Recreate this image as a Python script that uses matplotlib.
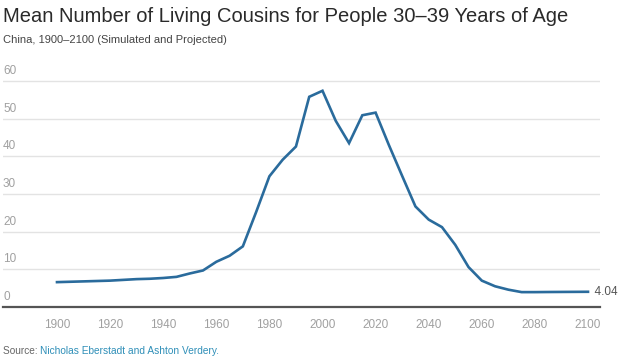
import matplotlib

matplotlib.use("Agg")
import matplotlib.pyplot as plt
from matplotlib import transforms

plt.rcParams["font.family"] = ["Liberation Sans", "DejaVu Sans"]

years = list(range(1900, 2101, 5))
cousins = [
    6.6, 6.7, 6.8, 6.9, 7.0, 7.2, 7.4, 7.5, 7.7, 8.0,
    8.9, 9.7, 12.0, 13.6, 16.1, 25.2, 34.7, 39.1, 42.6, 55.8,
    57.4, 49.4, 43.5, 50.9, 51.6, 43.0, 34.8, 26.7, 23.2, 21.2,
    16.5, 10.6, 7.0, 5.5, 4.6, 3.95, 3.95, 3.98, 4.0, 4.02, 4.04,
]
y_ticks = [0, 10, 20, 30, 40, 50, 60]
x_ticks = list(range(1900, 2101, 20))
end_label = "4.04"

W, H = 626, 361
fig = plt.figure(figsize=(W / 100, H / 100), dpi=100)
ax = fig.add_axes([3 / W, 1 - 307 / H, 597 / W, 237 / H])

px_per_year = 2.655
ax.set_xlim(1900 - 54 / px_per_year, 2100 + 12 / px_per_year)
ax.set_ylim(0, 237 / 3.767)

for v in y_ticks[1:]:
    ax.axhline(v, color="#e3e3e3", linewidth=1.0, zorder=1)

ax.plot(years, cousins, color="#2a6b9c", linewidth=1.9, solid_joinstyle="miter", zorder=3)

# y labels sit above the gridlines at the left edge
blend = transforms.blended_transform_factory(fig.transFigure, ax.transData)
offset = transforms.offset_copy(blend, fig=fig, x=0, y=4, units="dots")
for v in y_ticks:
    ax.text(3 / W, v, str(v), transform=offset, ha="left", va="bottom",
            fontsize=8.5, color="#a0a0a0", clip_on=False)

ax.text(years[-1], cousins[-1], "  " + end_label, ha="left", va="center",
        fontsize=8.5, color="#555555", clip_on=False)

ax.set_xticks(x_ticks)
ax.set_xticklabels([str(x) for x in x_ticks])
ax.set_yticks([])
ax.tick_params(axis="x", length=0, pad=9, labelsize=8.5, labelcolor="#a0a0a0")
for side in ("top", "right", "left"):
    ax.spines[side].set_visible(False)
ax.spines["bottom"].set_color("#555555")
ax.spines["bottom"].set_linewidth(1.6)

fig.text(3 / W, 1 - 17 / H, "Mean Number of Living Cousins for People 30\u201339 Years of Age",
         ha="left", va="center", fontsize=14.5, color="#2a2a2a")
fig.text(3 / W, 1 - 40 / H, "China, 1900\u20132100 (Simulated and Projected)",
         ha="left", va="center", fontsize=8, color="#444444")
src = fig.text(3 / W, 1 - 351 / H, "Source: ", ha="left", va="center",
               fontsize=7.3, color="#666666")
fig.canvas.draw()
bb = src.get_window_extent()
fig.text(bb.x1 / W, 1 - 351 / H, "Nicholas Eberstadt and Ashton Verdery.",
         ha="left", va="center", fontsize=7.3, color="#2f8fb8")

fig.savefig("out.png", dpi=100)
